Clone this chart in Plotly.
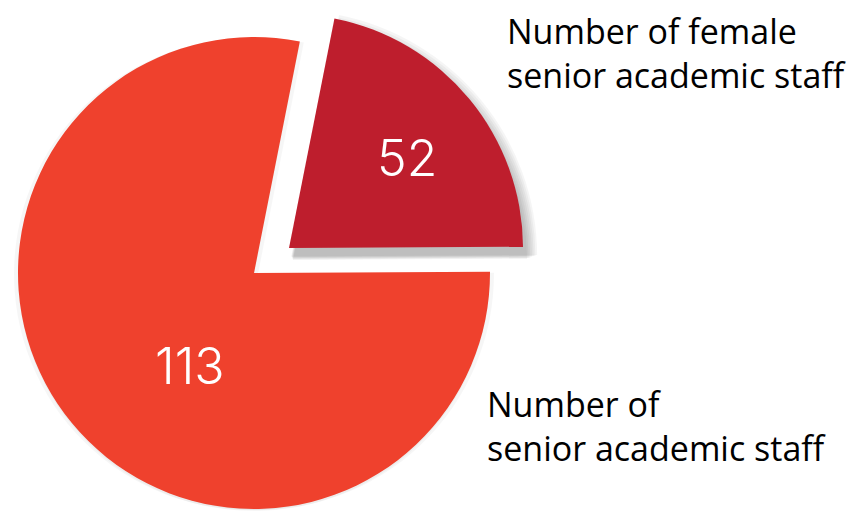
import plotly.graph_objects as go

# ---- data ----
categories = ["Number of female<br>senior academic staff", "Number of<br>senior academic staff"]
counts = [52, 113]                 # numbers printed on the slices
drawn_share = [21.8, 78.2]         # share of the circle each slice occupies as drawn (%)
slice_colors = ["#BE1E2D", "#EF412D"]

W, H = 850, 511
CLEAR = "rgba(0,0,0,0)"


def dom(cx, cy, r):
    y0 = max(0.0, 1 - (cy + r) / H)
    y1 = min(1.0, 1 - (cy - r) / H)
    x0 = max(0.0, (cx - r) / W)
    x1 = min(1.0, (cx + r) / W)
    return dict(x=[x0, x1], y=[y0, y1])


def piece(cx, cy, r, colors):
    return go.Pie(
        values=drawn_share,
        labels=["female", "all"],
        sort=False,
        direction="clockwise",
        rotation=11.2,
        domain=dom(cx, cy, r),
        marker=dict(colors=colors, line=dict(width=0)),
        textinfo="none",
        hoverinfo="skip",
        showlegend=False,
    )


fig = go.Figure()

# soft shadows (stacked translucent copies)
for dr in [12, 10, 8, 6, 4, 2, 0]:
    dy = 12 - dr * 0.3
    dx = 4 - dr * 0.15
    fig.add_trace(piece(289 + dx, 248 + dy, 234 + dr, ["rgba(0,0,0,0.04)", CLEAR]))
for dx, dy in [(-4, 1), (4, 1), (0, 2)]:
    fig.add_trace(piece(254 + dx, 273 + dy, 236, [CLEAR, "rgba(0,0,0,0.035)"]))

# main slices
fig.add_trace(piece(254, 273, 236, [CLEAR, slice_colors[1]]))
fig.add_trace(piece(289, 248, 234, [slice_colors[0], CLEAR]))

FONT = "Open Sans"
NUMFONT = "Inter"
# numbers on slices
fig.add_annotation(x=407 / W, y=1 - 158 / H, xref="paper", yref="paper", text=str(counts[0]),
                   showarrow=False, font=dict(family=NUMFONT, size=50, color="white", weight=300),
                   xanchor="center", yanchor="middle")
fig.add_annotation(x=190 / W, y=1 - 366 / H, xref="paper", yref="paper", text=str(counts[1]),
                   showarrow=False, font=dict(family=NUMFONT, size=50, color="white", weight=300),
                   xanchor="center", yanchor="middle")
# category labels
fig.add_annotation(x=505 / W, y=1 - 53 / H, xref="paper", yref="paper", text=categories[0],
                   showarrow=False, font=dict(family=FONT, size=34, color="black"),
                   xanchor="left", yanchor="middle", align="left")
fig.add_annotation(x=485 / W, y=1 - 426 / H, xref="paper", yref="paper", text=categories[1],
                   showarrow=False, font=dict(family=FONT, size=34, color="black"),
                   xanchor="left", yanchor="middle", align="left")

fig.update_layout(
    width=W, height=H,
    margin=dict(l=0, r=0, t=0, b=0),
    paper_bgcolor="white", plot_bgcolor="white",
)

fig.write_html("out.html", config={"displayModeBar": False},
               post_script="document.body.style.margin='0';")
